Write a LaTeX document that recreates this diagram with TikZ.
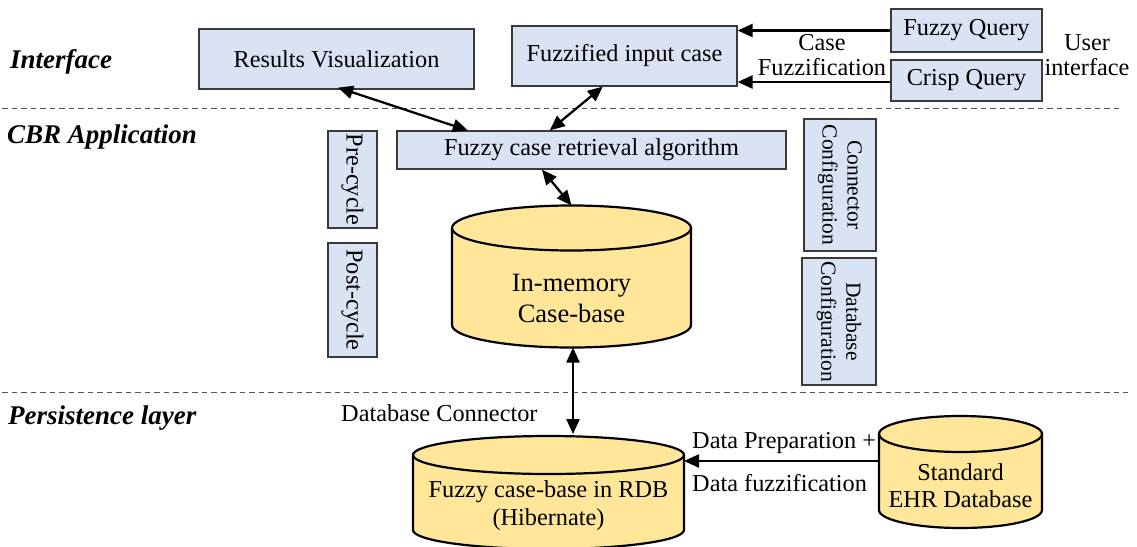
\documentclass[tikz,border=0pt]{standalone}
\usepackage{fontspec}
\setmainfont{Liberation Serif}
\usetikzlibrary{arrows.meta,calc}

\definecolor{boxblue}{HTML}{DAE3F3}
\definecolor{dbgold}{HTML}{FFE699}
\definecolor{edgegray}{HTML}{3A3A3A}
\definecolor{sepgray}{HTML}{555555}

% #1 name, #2 centre x, #3 y of upper rim, #4 y of lower rim,
% #5 x radius, #6 y radius, #7 y of the text, #8 font, #9 text
\newcommand\dbcylinder[9]{%
  \draw[cylbody] (#2-#5,#3) -- (#2-#5,#4)
    arc[start angle=180,end angle=360,x radius=#5pt,y radius=#6pt]
    -- (#2+#5,#3)
    arc[start angle=0,end angle=180,x radius=#5pt,y radius=#6pt] -- cycle;
  \draw[cylrim] (#2-#5,#3)
    arc[start angle=180,end angle=360,x radius=#5pt,y radius=#6pt];
  \node[cyltext, font=#8] (#1) at (#2,#7) {#9};
  \coordinate (#1-top) at (#2,#3-#6);
  \coordinate (#1-bot) at (#2,#4+#6);
  \coordinate (#1-nw) at (#2-#5,#3);
  \coordinate (#1-ne) at (#2+#5,#3);
}

\tikzset{
  mainfont/.style={font=\fontsize{24.3}{28}\selectfont},
  appbox/.style={draw=edgegray, fill=boxblue, line width=1.2pt, inner sep=0pt,
    mainfont, align=center},
  sidebox/.style={appbox, rotate=-90},
  cfgbox/.style={appbox, rotate=-90, font=\fontsize{21.5}{25}\selectfont},
  cylbody/.style={draw=black, fill=dbgold, line width=2.2pt},
  cylrim/.style={draw=black, line width=2.2pt},
  cyltext/.style={align=center, inner sep=0pt},
  layerlabel/.style={anchor=west, inner sep=0pt,
    font=\fontsize{27}{31}\selectfont\bfseries\itshape},
  plainlabel/.style={inner sep=0pt, mainfont, align=center},
  separator/.style={draw=sepgray, line width=1.2pt, dash pattern=on 5.5pt off 4pt},
  biarrow/.style={line width=2.3pt,
    {Triangle[length=15pt,width=13pt]}-{Triangle[length=15pt,width=13pt]}},
  onearrow/.style={line width=2.3pt, -{Triangle[length=15pt,width=13pt]}},
}

\begin{document}
\begin{tikzpicture}[x=1pt,y=-1pt]
  \useasboundingbox[fill=white] (0,0) rectangle (1137,546);

  % layer separators
  \draw[separator] (2,108.5) -- (1122,108.5);
  \draw[separator] (2,392.5) -- (1128,392.5);

  % layer names
  \node[layerlabel] (lint) at (10,62) {Interface};
  \node[layerlabel] (lcbr) at (7,137) {CBR Application};
  \node[layerlabel] (lper) at (8,418) {Persistence layer};

  % interface layer
  \node[appbox, minimum width=275pt, minimum height=60pt] (res) at (336.5,59) {Results Visualization};
  \node[appbox, minimum width=225pt, minimum height=60pt] (fic) at (624.5,56) {Fuzzified input case};
  \node[appbox, minimum width=151pt, minimum height=43pt] (fq) at (966.5,30.5) {Fuzzy Query};
  \node[appbox, minimum width=151pt, minimum height=41pt] (cq) at (966.5,80.5) {Crisp Query};
  \node[plainlabel] (cf) at (822,55.5) {Case\\[-3pt]Fuzzification};
  \node[plainlabel] (ui) at (1087,55.5) {User\\[-3pt]interface};

  % CBR application layer
  \node[appbox, minimum width=389pt, minimum height=38pt] (ret) at (591.5,150) {Fuzzy case retrieval algorithm};
  \node[sidebox, minimum width=97pt, minimum height=49pt] (pre) at (352.5,179.5) {Pre-cycle};
  \node[sidebox, minimum width=114pt, minimum height=49pt] (post) at (352.5,300) {Post-cycle};
  \node[cfgbox, minimum width=132pt, minimum height=72pt] (ccfg) at (840,185) {Connector\\Configuration};
  \node[cfgbox, minimum width=127pt, minimum height=74pt] (dcfg) at (839,321.5) {Database\\Configuration};

  \dbcylinder{imc}{571.5}{228}{325}{119.5}{22.5}{298}%
    {\fontsize{26.5}{31}\selectfont}{In-memory\\Case-base}

  % persistence layer
  \dbcylinder{rdb}{548.5}{455}{530}{135.5}{19}{506}%
    {\fontsize{24.3}{28}\selectfont}{Fuzzy case-base in RDB\\(Hibernate)}
  \dbcylinder{ehr}{960.5}{434}{510}{81.5}{18}{485.5}%
    {\fontsize{24.3}{27}\selectfont}{Standard\\EHR Database}

  \node[plainlabel, anchor=west] (dbcon) at (341,413) {Database Connector};
  \node[plainlabel, anchor=west] (dprep) at (692,443) {Data Preparation +};
  \node[plainlabel, anchor=west] (dfuz) at (692,483) {Data fuzzification};

  % connectors
  \draw[onearrow] (fq.west) -- (fq.west -| fic.east);
  \draw[onearrow] ($(cq.west)+(0,1.5)$) -- ($(cq.west -| fic.east)+(0,1.5)$);
  \draw[biarrow] ($(res.south)+(1.5,-2)$) -- ($(ret.north west)!0.183!(ret.north east)$);
  \draw[biarrow] ($(fic.south west)!0.404!(fic.south east)$) -- ($(ret.north west)!0.393!(ret.north east)$);
  \draw[biarrow] ($(ret.south west)!0.373!(ret.south east)$) -- (imc-top);
  \draw[biarrow] ($(imc-bot)+(1.5,0)$) -- ($(imc-bot |- rdb-top)+(1.5,-2)$);
  \draw[onearrow] ($(ehr-nw)+(0,27)$) -- ($(rdb-ne)+(0,6)$);
\end{tikzpicture}
\end{document}
